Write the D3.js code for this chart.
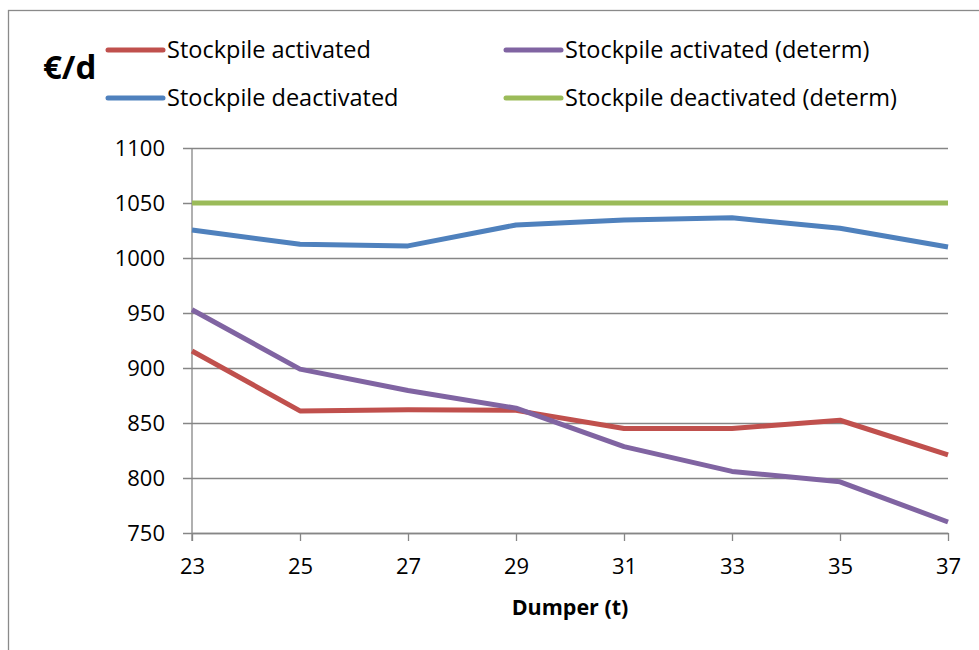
<!DOCTYPE html>
<html>
<head>
<meta charset="utf-8">
<script src="https://cdn.jsdelivr.net/npm/d3@7"></script>
<style>
  html, body { margin: 0; padding: 0; background: #fff; }
  svg { display: block; }
</style>
</head>
<body>
<svg id="chart" width="979" height="650"></svg>
<script>
const dumper = [23, 25, 27, 29, 31, 33, 35, 37];
const stockpileActivated = [915.5, 861, 862, 861.5, 845, 845, 852.5, 821];
const stockpileActivatedDeterm = [953, 899, 879.5, 863.5, 828.5, 806, 796.5, 760];
const stockpileDeactivated = [1025.5, 1012.5, 1011, 1030, 1034.5, 1036.5, 1027, 1010];
const stockpileDeactivatedDeterm = [1050, 1050, 1050, 1050, 1050, 1050, 1050, 1050];
const yTicks = [750, 800, 850, 900, 950, 1000, 1050, 1100];
const seriesNames = ["Stockpile activated", "Stockpile deactivated", "Stockpile activated (determ)", "Stockpile deactivated (determ)"];
const seriesColors = ["#C0504D", "#4F81BD", "#8064A2", "#9BBB59"];
const yLabel = "€/d";
const xLabel = "Dumper (t)";

(function () {
const series = [
  { name: seriesNames[0], color: seriesColors[0], values: stockpileActivated },
  { name: seriesNames[1], color: seriesColors[1], values: stockpileDeactivated },
  { name: seriesNames[2], color: seriesColors[2], values: stockpileActivatedDeterm },
  { name: seriesNames[3], color: seriesColors[3], values: stockpileDeactivatedDeterm }
];

const font = "'Open Sans', sans-serif";
const svg = d3.select("#chart");

svg.append("rect").attr("x", 8.5).attr("y", 10.5).attr("width", 1000).attr("height", 700)
  .attr("fill", "none").attr("stroke", "#8a8a8a").attr("stroke-width", 1.3);

const pL = 192, pR = 948, pT = 148, pB = 533;
const x = d3.scaleLinear().domain([23, 37]).range([pL, pR]);
const y = d3.scaleLinear().domain([750, 1100]).range([pB, pT]);

const yAxis = d3.axisLeft(y).tickValues(yTicks).tickFormat(d3.format("d")).tickSizeOuter(0);
const gy = svg.append("g").attr("transform", `translate(${pL},0)`).call(yAxis);
gy.select(".domain").remove();
gy.selectAll(".tick line").attr("stroke", "#868686").attr("stroke-width", 1.3).attr("x1", -9).attr("x2", pR - pL);
gy.selectAll(".tick text").attr("font-family", font).attr("font-size", 22).attr("fill", "#000")
  .attr("x", -27).attr("dy", "0.36em");

svg.append("line").attr("x1", pL).attr("x2", pL).attr("y1", pT).attr("y2", pB + 8)
  .attr("stroke", "#868686").attr("stroke-width", 1.3);

const xAxis = d3.axisBottom(x).tickValues(dumper).tickFormat(d3.format("d")).tickSize(8).tickSizeOuter(0).tickPadding(17);
const gx = svg.append("g").attr("transform", `translate(0,${pB})`).call(xAxis);
gx.select(".domain").attr("stroke", "#868686").attr("stroke-width", 1.3);
gx.selectAll(".tick line").attr("stroke", "#868686").attr("stroke-width", 1.3);
gx.selectAll(".tick text").attr("font-family", font).attr("font-size", 22).attr("fill", "#000");

const line = d3.line().x((d, i) => x(dumper[i])).y(d => y(d));
[3, 1, 0, 2].forEach(k => {
  svg.append("path").datum(series[k].values)
    .attr("d", line).attr("fill", "none")
    .attr("stroke", series[k].color).attr("stroke-width", 5)
    .attr("stroke-linejoin", "round");
});

svg.append("text").attr("x", 570).attr("y", 615).attr("text-anchor", "middle")
  .attr("font-family", font).attr("font-weight", "bold").attr("font-size", 21.5).text(xLabel);
svg.append("text").attr("x", 43).attr("y", 79)
  .attr("font-family", font).attr("font-weight", "bold").attr("font-size", 33).text(yLabel);

const legendPos = [[108, 50], [108, 98], [506, 50], [506, 98]];
series.forEach((s, i) => {
  const [lx, ly] = legendPos[i];
  svg.append("line").attr("x1", lx).attr("x2", lx + 55).attr("y1", ly).attr("y2", ly)
    .attr("stroke", s.color).attr("stroke-width", 5).attr("stroke-linecap", "round");
  svg.append("text").attr("x", lx + 59).attr("y", ly).attr("dy", "0.35em")
    .attr("font-family", font).attr("font-size", 23.5).attr("fill", "#000").text(s.name);
});
})();
</script>
</body>
</html>
